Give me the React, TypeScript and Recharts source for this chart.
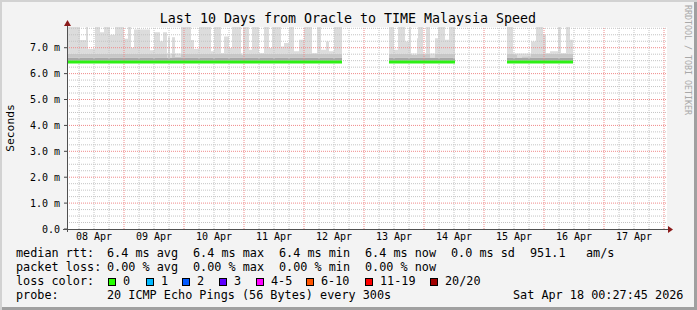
import React from "react"
import {
  ComposedChart,
  Area,
  Line,
  XAxis,
  YAxis,
  ReferenceLine,
  CartesianGrid,
} from "recharts"

// hours since 08 Apr 00:00, smoke top (ms), one value per run
const seg1Hours = [1.2, 6.4, 8.8, 9.6, 12.4, 14.4, 16.0, 18.4, 20.4, 24.0, 25.6, 26.8, 28.0, 34.4, 36.0, 38.4, 39.6, 41.2, 41.6, 42.4, 43.2, 44.4, 46.8, 50.8, 52.0, 54.0, 58.8, 60.0, 62.8, 64.0, 66.0, 67.2, 70.8, 71.6, 74.0, 75.2, 78.0, 80.0, 82.0, 83.2, 86.8, 88.0, 90.0, 92.0, 94.0, 96.0, 99.2, 101.2, 102.8, 104.8, 106.0, 108.0]
const seg1Tops = [7.9, 7.3, 7.9, 6.95, 7.9, 7.6, 7.9, 7.5, 7.9, 7.35, 7.9, 7.0, 7.7, 6.9, 7.6, 7.25, 7.6, 6.6, 7.4, 6.6, 7.4, 6.65, 7.9, 7.3, 6.95, 7.9, 6.86, 7.9, 6.8, 7.43, 6.99, 7.9, 6.73, 7.9, 6.92, 7.9, 6.8, 7.9, 6.99, 7.9, 7.05, 7.18, 7.9, 6.86, 7.31, 7.9, 6.8, 7.9, 6.92, 7.24, 6.86, 7.9]
const seg1End = 111.2

const seg2Hours = [130.0, 132.0, 133.6, 136.4, 138.0, 138.8, 141.2, 141.6, 143.6, 144.8, 146.4, 148.4, 149.6, 152.4, 154.0]
const seg2Tops = [7.9, 6.92, 7.9, 7.24, 7.9, 6.73, 7.37, 7.9, 6.73, 7.9, 6.6, 7.37, 7.9, 7.31, 7.9]
const seg2End = 156.4

const seg3Hours = [177.2, 179.6, 181.2, 183.2, 186.8, 188.8, 191.6, 192.8, 194.4, 197.6, 198.8, 200.8, 202.4]
const seg3Tops = [7.9, 6.75, 6.6, 6.67, 7.24, 7.9, 7.5, 6.8, 6.86, 7.9, 6.8, 7.9, 7.31]
const seg3End = 203.6

const medianRtt = 6.45

const dayLabels = ["08 Apr", "09 Apr", "10 Apr", "11 Apr", "12 Apr", "13 Apr", "14 Apr", "15 Apr", "16 Apr", "17 Apr"]
const dayTicks = dayLabels.map((_, i) => 12 + i * 24)
const yTicks = [0, 1, 2, 3, 4, 5, 6, 7]

const lossLabels = ["0", "1", "2", "3", "4-5", "6-10", "11-19", "20/20"]
const lossColors = ["#26ff00", "#00b8ff", "#0059ff", "#5e00ff", "#ff00ff", "#ff5500", "#ff0000", "#a10000"]
const lossSwatchX = [108, 146, 182, 219, 256, 306, 365, 430]

type Row = { h: number; top: number | null; med: number | null }

const rows: Row[] = []
;[
  { hours: seg1Hours, tops: seg1Tops, end: seg1End },
  { hours: seg2Hours, tops: seg2Tops, end: seg2End },
  { hours: seg3Hours, tops: seg3Tops, end: seg3End },
].forEach((seg) => {
  seg.hours.forEach((h, i) => rows.push({ h, top: seg.tops[i], med: medianRtt }))
  rows.push({ h: seg.end, top: seg.tops[seg.tops.length - 1], med: medianRtt })
  rows.push({ h: seg.end + 0.1, top: null, med: null })
})

const band = (lo: number, hi: number) => (r: Row) =>
  r.top == null ? null : [lo, Math.min(r.top, hi)]

const minorY: number[] = []
for (let v = 0.25; v < 7.8; v += 0.25) if (Math.abs(v - Math.round(v)) > 0.01) minorY.push(v)
const majorY = [1, 2, 3, 4, 5, 6, 7]
const minorX: number[] = []
for (let h = 6; h < 241; h += 6) if (h % 24 !== 0) minorX.push(h)
const majorX = dayLabels.map((_, i) => 24 + i * 24)

const mono = "'DejaVu Sans Mono', monospace"
const fmtY = (v: number) => (v === 0 ? "0.0" : `${v.toFixed(1)} m`)

export default function App() {
  return (
    <div
      style={{
        position: "relative",
        width: 697,
        height: 310,
        background: "#f3f3f3",
        boxShadow: "inset 2px 2px 0 #d2d2d2, inset -3px -3px 0 #a0a0a0",
        fontFamily: mono,
      }}
    >
      <style>{"body{margin:0}"}</style>
      <ComposedChart
        width={697}
        height={310}
        data={rows}
        margin={{ top: 27, right: 30, bottom: 61, left: 7 }}
        style={{ position: "absolute", left: 0, top: 0 }}
      >
        <CartesianGrid horizontal={false} vertical={false} fill="#ffffff" />
        <XAxis
          dataKey="h"
          type="number"
          domain={[1.2, 241.2]}
          allowDataOverflow
          ticks={dayTicks}
          interval={0}
          tickFormatter={(v: number) => dayLabels[Math.round((v - 12) / 24)]}
          tickLine={false}
          axisLine={false}
          tickSize={0}
          tickMargin={4}
          height={20}
          tick={{ fontSize: 10, fontFamily: mono, fill: "#000" }}
        />
        <YAxis
          type="number"
          domain={[0, 7.8]}
          allowDataOverflow
          ticks={yTicks}
          interval={0}
          tickFormatter={fmtY}
          axisLine={false}
          tickLine={{ stroke: "#444" }}
          tickSize={3}
          tickMargin={4}
          width={60}
          tick={{ fontSize: 10, fontFamily: mono, fill: "#000" }}
        />
        <Area type="stepAfter" dataKey={band(6.5, 6.62)} stroke="none" fill="#a8a8a8" fillOpacity={1} isAnimationActive={false} dot={false} activeDot={false} />
        <Area type="stepAfter" dataKey={band(6.62, 6.78)} stroke="none" fill="#c8c8c8" fillOpacity={1} isAnimationActive={false} dot={false} activeDot={false} />
        <Area type="stepAfter" dataKey={band(6.78, 99)} stroke="none" fill="#dcdcdc" fillOpacity={1} isAnimationActive={false} dot={false} activeDot={false} />
        {minorY.map((v) => (
          <ReferenceLine key={`my${v}`} y={v} stroke="#c4c4c4" strokeDasharray="1 1" />
        ))}
        {minorX.map((h) => (
          <ReferenceLine key={`mx${h}`} x={h} stroke="#c4c4c4" strokeDasharray="1 1" />
        ))}
        {majorY.map((v) => (
          <ReferenceLine key={`My${v}`} y={v} stroke="#f08a8a" strokeDasharray="1 1" />
        ))}
        {majorX.map((h) => (
          <ReferenceLine key={`Mx${h}`} x={h} stroke="#f08a8a" strokeDasharray="1 1" />
        ))}
        <Line type="stepAfter" dataKey="med" stroke="#2cf014" strokeWidth={3} dot={false} activeDot={false} isAnimationActive={false} />
      </ComposedChart>

      <svg width={697} height={310} style={{ position: "absolute", left: 0, top: 0, pointerEvents: "none" }} fontFamily={mono}>
        <text x={348} y={23} fontSize={13.3} textAnchor="middle" fill="#000">
          Last 10 Days from Oracle to TIME Malaysia Speed
        </text>
        <text x={14} y={128} fontSize={11.3} textAnchor="middle" fill="#000" transform="rotate(-90 14 128)">
          Seconds
        </text>
        <text x={685} y={5} fontSize={8.3} fill="#a8a8a8" transform="rotate(90 685 5)">
          RRDTOOL / TOBI OETIKER
        </text>

        <line x1={67.5} y1={232} x2={67.5} y2={24} stroke="#505050" />
        <polygon points="64,26 71,26 67.5,20" fill="#8b1a1a" />
        <line x1={63} y1={229.5} x2={669} y2={229.5} stroke="#505050" />
        <polygon points="668,226 668,233 673,229.5" fill="#8b1a1a" />

        <g fontSize={11.8} fill="#000" style={{ whiteSpace: "pre" }}>
          <text x={16} y={257}>median rtt:</text>
          <text x={107} y={257}>6.4 ms avg</text>
          <text x={193} y={257}>6.4 ms max</text>
          <text x={279} y={257}>6.4 ms min</text>
          <text x={365} y={257}>6.4 ms now</text>
          <text x={451} y={257}>0.0 ms sd</text>
          <text x={530} y={257}>951.1</text>
          <text x={586} y={257}>am/s</text>

          <text x={16} y={271}>packet loss:</text>
          <text x={107} y={271}>0.00 % avg</text>
          <text x={193} y={271}>0.00 % max</text>
          <text x={279} y={271}>0.00 % min</text>
          <text x={365} y={271}>0.00 % now</text>

          <text x={16} y={285}>loss color:</text>
          {lossLabels.map((l, i) => (
            <g key={l}>
              <rect x={lossSwatchX[i] + 0.5} y={278.5} width={7} height={7} fill={lossColors[i]} stroke="#000" />
              <text x={lossSwatchX[i] + 15} y={285}>{l}</text>
            </g>
          ))}

          <text x={16} y={299}>probe:</text>
          <text x={107} y={299}>20 ICMP Echo Pings (56 Bytes) every 300s</text>
          <text x={513} y={299}>Sat Apr 18 00:27:45 2026</text>
        </g>
      </svg>
    </div>
  )
}
